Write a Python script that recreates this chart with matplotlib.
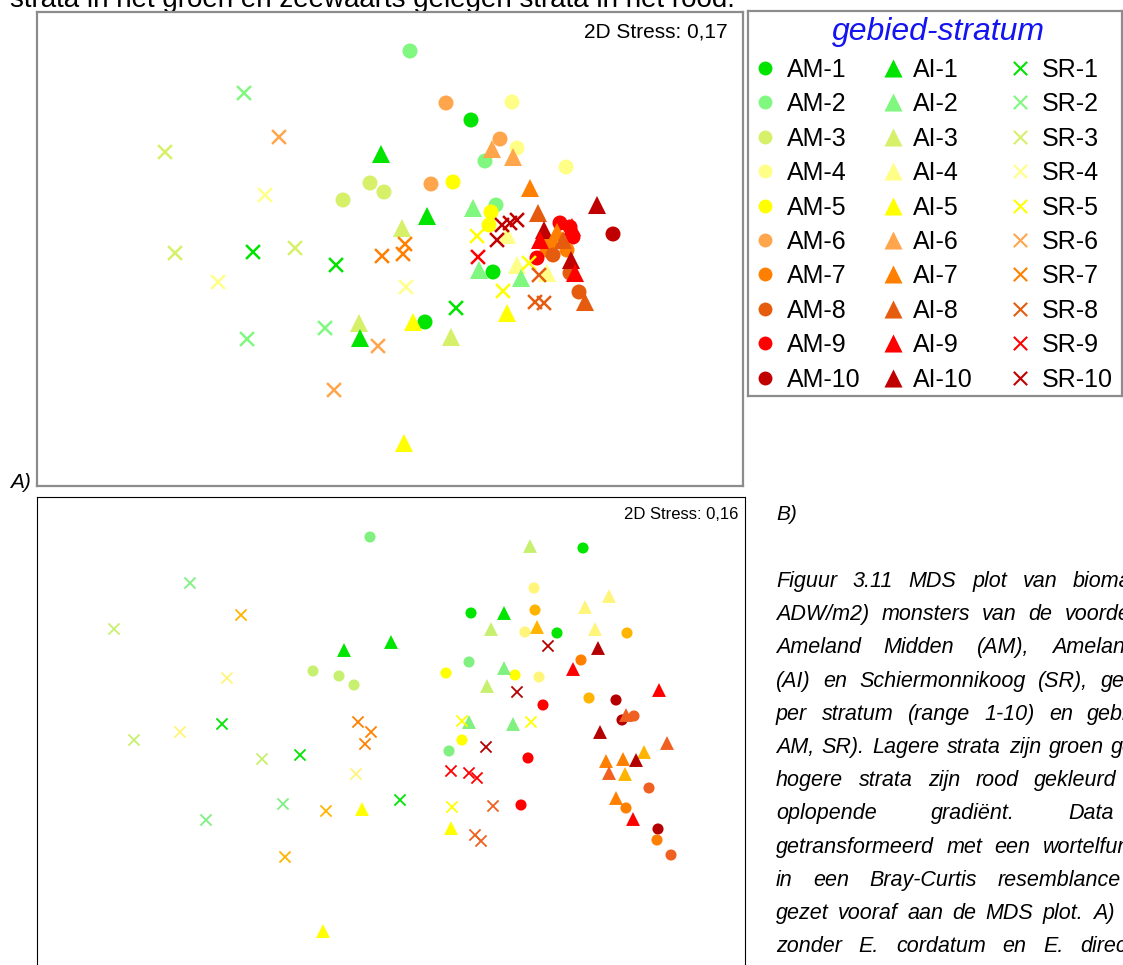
import matplotlib
matplotlib.use('Agg')
import matplotlib.pyplot as plt

plt.rcParams['font.family'] = ['Liberation Sans', 'DejaVu Sans']

W, H = 1123, 965

# colour per stratum 1..10 (green -> red)
pal_a = {1: '#00E400', 2: '#80F880', 3: '#D6F06A', 4: '#FFFF88', 5: '#FFFF00',
         6: '#FFA64D', 7: '#FF8000', 8: '#E65C0F', 9: '#FF0000', 10: '#C00000'}
pal_b = {1: '#00E600', 2: '#80F080', 3: '#C8F070', 4: '#FFF57A', 5: '#FFFF00',
         6: '#FFB400', 7: '#FF8000', 8: '#F06020', 9: '#FF0000', 10: '#B40000'}

# panel A: (stratum, mds1, mds2)
a_am = [(2, 410, 51), (6, 446, 103), (4, 512, 102), (1, 471, 120), (6, 500, 139),
        (4, 517, 148), (2, 485, 161), (4, 566, 167), (3, 370, 183), (3, 384, 192),
        (3, 343, 200), (6, 431, 184), (5, 453, 182), (2, 496, 205), (5, 491, 212),
        (5, 489, 225), (10, 613, 234), (9, 560, 223), (9, 570, 227), (9, 573, 237),
        (7, 550, 243), (7, 567, 250), (7, 547, 250), (8, 553, 255), (9, 537, 258),
        (1, 493, 272), (8, 570, 273), (8, 579, 292), (1, 425, 322)]
a_ai = [(1, 381, 154), (6, 492, 149), (6, 513, 157), (7, 530, 188), (10, 597, 205),
        (1, 427, 216), (2, 473, 208), (8, 538, 213), (3, 402, 228), (4, 507, 235),
        (10, 544, 230), (7, 557, 232), (9, 572, 227), (9, 540, 240), (8, 563, 240),
        (10, 571, 260), (9, 575, 273), (2, 479, 270), (4, 517, 265), (2, 521, 278),
        (4, 547, 273), (8, 585, 302), (5, 507, 313), (5, 413, 322), (3, 359, 323),
        (1, 360, 338), (3, 451, 337), (5, 404, 443)]
a_sr = [(2, 244, 93), (6, 279, 137), (3, 165, 152), (4, 265, 195), (3, 175, 253),
        (1, 253, 252), (3, 295, 248), (1, 336, 265), (7, 382, 256), (7, 403, 254),
        (7, 405, 244), (4, 218, 282), (4, 406, 287), (1, 456, 308), (2, 325, 328),
        (2, 247, 339), (6, 378, 346), (6, 334, 390), (10, 517, 220), (10, 510, 223),
        (10, 502, 225), (10, 497, 240), (5, 477, 236), (9, 478, 257), (5, 529, 263),
        (8, 539, 275), (5, 503, 291), (8, 535, 302), (8, 544, 303)]

# panel B
b_am = [(2, 370, 537), (3, 313, 671), (3, 339, 676), (3, 354, 685), (1, 583, 548),
        (4, 534, 588), (1, 471, 613), (6, 535, 610), (4, 525, 632), (1, 557, 633),
        (6, 627, 633), (7, 581, 660), (2, 469, 662), (5, 446, 673), (5, 515, 675),
        (4, 539, 677), (9, 543, 705), (6, 589, 698), (10, 616, 700), (10, 622, 720),
        (8, 634, 716), (5, 462, 740), (2, 449, 751), (9, 528, 758), (8, 649, 788),
        (9, 521, 805), (7, 626, 808), (10, 658, 829), (7, 657, 840), (8, 671, 855)]
b_ai = [(1, 344, 650), (1, 391, 642), (5, 362, 809), (5, 323, 931), (3, 530, 546),
        (4, 609, 596), (4, 585, 607), (1, 504, 613), (3, 491, 629), (6, 537, 627),
        (4, 595, 629), (10, 598, 648), (9, 573, 669), (2, 504, 668), (3, 487, 686),
        (9, 659, 690), (8, 626, 715), (2, 469, 722), (2, 513, 724), (10, 600, 732),
        (8, 667, 743), (6, 644, 752), (7, 606, 761), (7, 623, 759), (10, 636, 760),
        (8, 609, 773), (6, 625, 774), (7, 616, 798), (9, 633, 819), (5, 451, 828)]
b_sr = [(2, 190, 583), (6, 241, 615), (3, 114, 629), (4, 227, 678), (1, 222, 724),
        (4, 180, 732), (3, 134, 740), (7, 358, 722), (7, 371, 732), (7, 365, 744),
        (3, 262, 759), (1, 300, 755), (4, 356, 774), (1, 400, 800), (2, 283, 804),
        (6, 326, 811), (2, 206, 820), (6, 285, 857), (10, 548, 646), (10, 517, 692),
        (5, 462, 721), (5, 531, 722), (10, 486, 747), (9, 451, 771), (9, 469, 773),
        (9, 477, 778), (5, 452, 807), (8, 493, 806), (8, 475, 835), (8, 481, 841)]

areas = ['AM', 'AI', 'SR']
strata = list(range(1, 11))

top_line = 'strata in het groen en zeewaarts gelegen strata in het rood.'
caption = ['Figuur 3.11 MDS plot van biomassa (g',
           'ADW/m2) monsters van de voordelta van',
           'Ameland Midden (AM), Ameland Inlet',
           '(AI) en Schiermonnikoog (SR), gemiddeld',
           'per stratum (range 1-10) en gebied (AI,',
           'AM, SR). Lagere strata zijn groen gekleurd,',
           'hogere strata zijn rood gekleurd in een',
           'oplopende gradiënt. Data zijn',
           'getransformeerd met een wortelfunctie en',
           'in een Bray-Curtis resemblance matrix',
           'gezet vooraf aan de MDS plot. A) Analyse',
           'zonder E. cordatum en E. directus. B)']


fig = plt.figure(figsize=(W / 100, H / 100), dpi=100)


def px_axes(x0, y0, x1, y1):
    ax = fig.add_axes([x0 / W, 1 - y1 / H, (x1 - x0) / W, (y1 - y0) / H])
    ax.set_xlim(x0, x1)
    ax.set_ylim(y1, y0)
    ax.set_xticks([])
    ax.set_yticks([])
    return ax


def draw_panel(ax, am, ai, sr, pal, sz):
    for pts, marker, s, lw in ((am, 'o', sz[0], 0), (ai, '^', sz[1], 0), (sr, 'x', sz[2], sz[3])):
        k, x, y = zip(*pts)
        ax.scatter(x, y, c=[pal[i] for i in k], marker=marker, s=s ** 2, linewidths=lw, zorder=3)


# panel A
axa = px_axes(37, 12, 743, 486)
for sp in axa.spines.values():
    sp.set_color('#8c8c8c')
    sp.set_linewidth(1.6)
draw_panel(axa, a_am, a_ai, a_sr, pal_a, (10.8, 13, 10, 1.8))
axa.text(728, 38, '2D Stress: 0,17', ha='right', va='baseline', fontsize=15)

# panel B
axb = px_axes(37, 497, 745, 1000)
for sp in axb.spines.values():
    sp.set_color('black')
    sp.set_linewidth(0.8)
draw_panel(axb, b_am, b_ai, b_sr, pal_b, (8, 10, 8, 1.3))
axb.text(738, 519, '2D Stress: 0,16', ha='right', va='baseline', fontsize=12)

# legend box
axl = px_axes(748, 11, 1122, 396)
for sp in axl.spines.values():
    sp.set_color('#8c8c8c')
    sp.set_linewidth(1.6)
axl.text(938, 40, 'gebied-stratum', ha='center', va='baseline', fontsize=23,
         style='italic', color='#1414F0')
col_marker = {'AM': ('o', 765, 10, 0), 'AI': ('^', 893, 13, 0), 'SR': ('x', 1020, 9.6, 1.5)}
col_text = {'AM': 787, 'AI': 913, 'SR': 1042}
for a in areas:
    m, mx, ms, lw = col_marker[a]
    for i, s in enumerate(strata):
        yb = 77 + 34.4 * i
        axl.scatter([mx], [yb - 9], c=[pal_a[s]], marker=m, s=ms ** 2, linewidths=lw)
        axl.text(col_text[a], yb, f'{a}-{s}', ha='left', va='baseline', fontsize=18)

# page text around the figure
axt = fig.add_axes([0, 0, 1, 1], zorder=-1)
axt.set_xlim(0, W)
axt.set_ylim(H, 0)
axt.axis('off')
r = fig.canvas.get_renderer()


def justify(words, x0, x1, y, **kw):
    ts = [axt.text(0, y, w, va='baseline', **kw) for w in words]
    ws = [t.get_window_extent(r).width for t in ts]
    gap = (x1 - x0 - sum(ws)) / (len(ws) - 1)
    x = x0
    for t, w in zip(ts, ws):
        t.set_x(x)
        x += w + gap


axt.text(10, 7, top_line, ha='left', va='baseline', fontsize=20)
axt.text(10, 488, 'A)', ha='left', va='baseline', fontsize=15, style='italic')
axt.text(776, 520, 'B)', ha='left', va='baseline', fontsize=15, style='italic')
for i, line in enumerate(caption):
    justify(line.split(), 776, 1200, 587 + 33.2 * i, fontsize=15.5, style='italic')

fig.savefig('out.png', dpi=100)
